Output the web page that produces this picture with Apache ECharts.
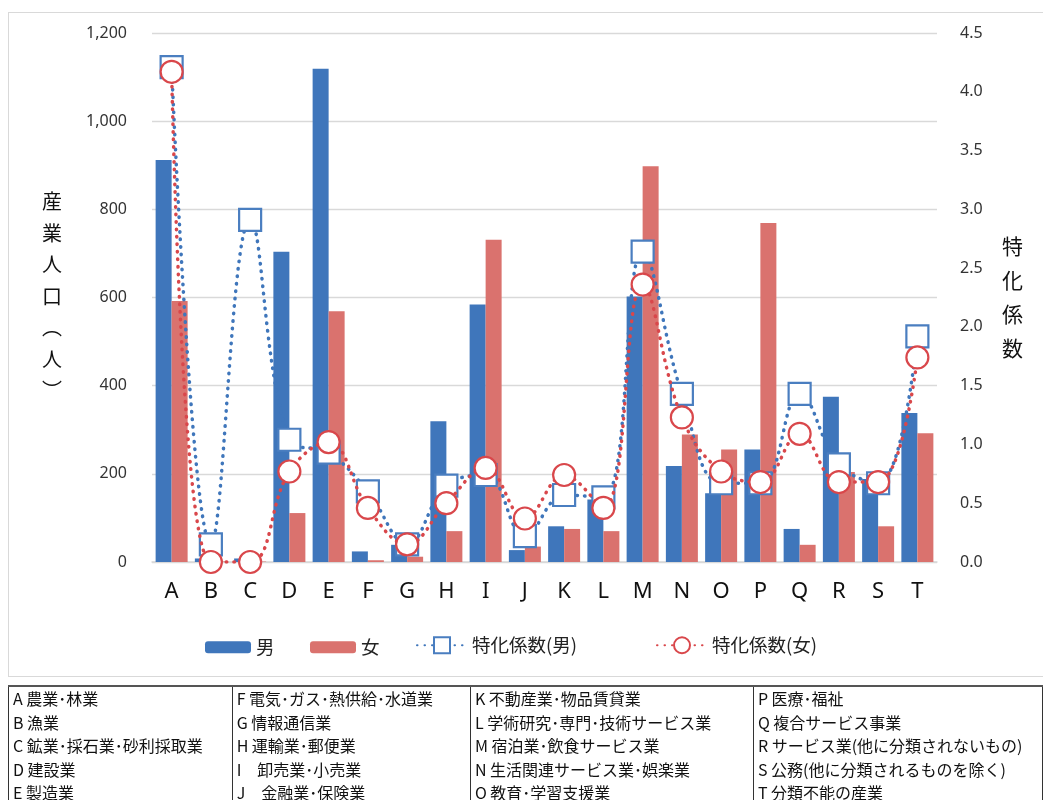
<!DOCTYPE html>
<html><head><meta charset="utf-8">
<script src="https://cdn.jsdelivr.net/npm/echarts@6/dist/echarts.min.js"></script>
<style>
html,body{margin:0;padding:0;background:#fff;}
#wrap{position:relative;width:1043px;height:800px;overflow:hidden;font-family:"Noto Sans CJK JP","Noto Sans",sans-serif;}
#chart{position:absolute;left:0;top:0;width:1043px;height:800px;}
#frame{position:absolute;left:8px;top:12px;width:1040px;height:665px;border:1px solid #d9d9d9;box-sizing:border-box;pointer-events:none;}
#legendTable{position:absolute;left:8px;top:685px;border-collapse:collapse;font-size:16px;color:#111;}
#legendTable td{border-left:1px solid #333;border-right:1px solid #333;padding:0 0 0 4px;height:23.5px;line-height:23.5px;white-space:nowrap;vertical-align:middle;}
#legendTable tr:first-child td{border-top:2px solid #555;}
</style></head>
<body><div id="wrap">
<div id="chart"></div>
<div id="frame"></div>
<table id="legendTable"></table>
</div>
<script>
const categories = ['A','B','C','D','E','F','G','H','I','J','K','L','M','N','O','P','Q','R','S','T'];
const male = [912, 8, 8, 704, 1119, 24, 39, 319, 584, 27, 81, 142, 602, 218, 156, 255, 75, 375, 188, 338];
const female = [592, 1, 1, 111, 569, 4, 12, 70, 731, 35, 75, 70, 898, 289, 255, 769, 39, 204, 81, 292];
const coefMale = [4.21, 0.15, 2.91, 1.04, 0.93, 0.60, 0.15, 0.65, 0.74, 0.22, 0.57, 0.55, 2.64, 1.43, 0.67, 0.67, 1.43, 0.83, 0.67, 1.92];
const coefFemale = [4.17, 0.00, 0.00, 0.77, 1.02, 0.46, 0.15, 0.50, 0.80, 0.37, 0.74, 0.46, 2.36, 1.23, 0.77, 0.68, 1.09, 0.68, 0.68, 1.74];
const leftTicks = [0, 200, 400, 600, 800, 1000, 1200];
const rightTicks = [0, 0.5, 1.0, 1.5, 2.0, 2.5, 3.0, 3.5, 4.0, 4.5];
const industryNames = [
  ['A 農業･林業','F 電気･ガス･熱供給･水道業','K 不動産業･物品賃貸業','P 医療･福祉'],
  ['B 漁業','G 情報通信業','L 学術研究･専門･技術サービス業','Q 複合サービス事業'],
  ['C 鉱業･採石業･砂利採取業','H 運輸業･郵便業','M 宿泊業･飲食サービス業','R サービス業(他に分類されないもの)'],
  ['D 建設業','I　卸売業･小売業','N 生活関連サービス業･娯楽業','S 公務(他に分類されるものを除く)'],
  ['E 製造業','J　金融業･保険業','O 教育･学習支援業','T 分類不能の産業']
];
const colWidths = [225, 240, 285, 290];

const tbl = document.getElementById('legendTable');
industryNames.forEach(row => {
  const tr = document.createElement('tr');
  row.forEach((t, i) => {
    const td = document.createElement('td');
    td.textContent = t;
    td.style.width = (colWidths[i] - 5) + 'px';
    td.style.maxWidth = (colWidths[i] - 5) + 'px';
    tr.appendChild(td);
  });
  tbl.appendChild(tr);
});

const FONT = '"Noto Sans CJK JP","Noto Sans",sans-serif';
const NUMFONT = '"Noto Sans","Noto Sans CJK JP",sans-serif';
const BLUE = '#3F76BB', PINK = '#DA726E', RED = '#D9474B', SQ = '#4A7EC0';
const chart = echarts.init(document.getElementById('chart'));
const legendText = {fontSize: 18.5, color: '#222', fontFamily: FONT};
chart.setOption({
  animation: false,
  textStyle: {fontFamily: FONT},
  grid: {left: 152, right: 106, top: 33, bottom: 238},
  legend: [
    {data: ['男'], left: 205, top: 638, padding: 0, itemWidth: 46, itemHeight: 12, itemGap: 8, textStyle: legendText},
    {data: ['女'], left: 310, top: 638, padding: 0, itemWidth: 46, itemHeight: 12, itemGap: 8, textStyle: legendText},
    {data: ['特化係数(男)'], left: 416, top: 636, padding: 0, itemWidth: 50, itemHeight: 20, textStyle: legendText},
    {data: ['特化係数(女)'], left: 656, top: 636, padding: 0, itemWidth: 50, itemHeight: 20, textStyle: legendText}
  ],
  xAxis: {
    type: 'category', data: categories,
    axisLine: {lineStyle: {color: '#d9d9d9', width: 1.5}},
    axisTick: {show: false},
    axisLabel: {fontSize: 22, color: '#111', margin: 19, fontFamily: NUMFONT}
  },
  yAxis: [
    {type: 'value', min: 0, max: 1200, interval: 200,
     axisLabel: {fontSize: 16, color: '#333', margin: 25, fontFamily: NUMFONT, formatter: v => v.toLocaleString('en-US')},
     splitLine: {lineStyle: {color: '#d9d9d9', width: 1.3}},
     axisLine: {show: false}, axisTick: {show: false}},
    {type: 'value', min: 0, max: 4.5, interval: 0.5,
     axisLabel: {fontSize: 16, color: '#333', margin: 23, fontFamily: NUMFONT, formatter: v => v.toFixed(1)},
     splitLine: {show: false}, axisLine: {show: false}, axisTick: {show: false}}
  ],
  graphic: [
    {type: 'text', left: 42, top: 186, style: {text: '産\n業\n人\n口\n︵\n人\n︶', lineHeight: 31.5, fill: '#111', font: '20px ' + FONT}},
    {type: 'text', left: 1002, top: 229, style: {text: '特\n化\n係\n数', lineHeight: 34, fill: '#111', font: '21px ' + FONT}}
  ],
  series: [
    {name: '男', type: 'bar', data: male, barWidth: 16, barGap: '0%', itemStyle: {color: BLUE}},
    {name: '女', type: 'bar', data: female, barWidth: 16, barGap: '0%', itemStyle: {color: PINK}},
    {name: '特化係数(男)', type: 'line', yAxisIndex: 1, data: coefMale, smooth: 0.4,
     symbol: 'rect', symbolSize: 22,
     itemStyle: {color: '#fff', borderColor: SQ, borderWidth: 2.2},
     lineStyle: {color: BLUE, width: 3.5, type: [0.5, 7], cap: 'round'}, z: 3},
    {name: '特化係数(女)', type: 'line', yAxisIndex: 1, data: coefFemale, smooth: 0.4,
     symbol: 'circle', symbolSize: 22,
     itemStyle: {color: '#fff', borderColor: RED, borderWidth: 2.2},
     lineStyle: {color: RED, width: 3.5, type: [0.5, 7], cap: 'round'}, z: 4}
  ]
});
</script>
</body></html>
